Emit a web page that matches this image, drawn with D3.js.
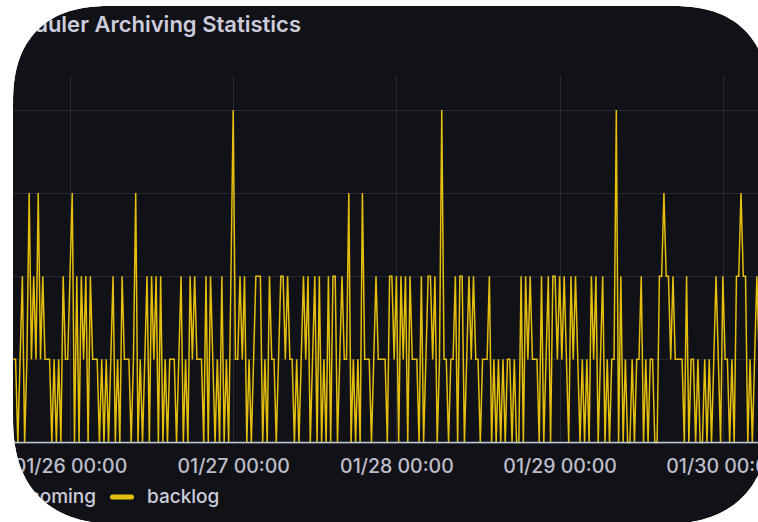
<!DOCTYPE html>
<html>
<head>
<meta charset="utf-8">
<script src="https://cdn.jsdelivr.net/npm/d3@7"></script>
<style>
  html, body { margin: 0; padding: 0; background: #ffffff; }
  svg { display: block; }
</style>
</head>
<body>
<svg id="chart" width="758" height="522"></svg>
<script>
// ---------------- DATA ----------------
const title = "Scheduler Archiving Statistics";
const seriesNames = ["incoming", "backlog"];
const startTime = Date.UTC(2024, 0, 25, 15, 40);   // first sample
const stepMinutes = 20;                              // sample interval
const backlog = [
  1,1,0,1,2,0,1,3,1,2, 1,3,1,2,1,1,1,0,1,0, 1,0,2,1,1,2,3,0,2,0,
  2,1,2,0,2,1,1,1,0,1, 0,1,0,1,2,0,1,0,2,1, 1,1,0,1,3,0,1,0,1,2,
  0,2,1,2,0,2,0,1,0,1, 1,1,0,1,2,0,1,0,2,1, 2,1,1,1,0,2,0,2,1,0,
  1,0,2,0,1,0,2,4,1,1, 2,1,2,0,1,0,1,2,2,2, 0,1,0,2,1,1,0,1,2,2,
  1,2,1,1,0,1,0,1,2,1, 2,0,1,2,0,2,0,1,0,2, 0,2,2,0,1,2,1,1,3,0,
  1,0,1,0,3,1,1,1,0,1, 2,1,1,1,1,0,2,2,1,2, 0,2,1,2,0,2,1,1,1,0,
  2,0,1,2,2,1,2,0,1,4, 1,1,0,1,1,2,0,2,2,0, 1,2,1,2,1,1,0,1,1,1,
  2,0,1,0,1,0,1,0,1,1, 0,1,0,0,2,0,2,1,2,1, 1,1,0,2,0,1,2,0,2,2,
  1,2,1,2,1,0,2,1,2,1, 0,1,0,1,0,2,1,2,0,1, 2,0,1,0,1,1,4,0,2,0,
  1,0,0,1,0,1,1,2,0,1, 0,1,1,0,0,2,2,3,2,2, 1,2,1,1,1,1,0,2,0,1,
  1,0,1,0,0,1,0,1,0,1, 2,1,0,2,1,1,0,1,0,2, 2,3,2,2,0,1,0,1,2,1,
  0,1,1,0
];
const incoming = [
  0,0,0,0,0,0,0,0,0,0, 0,0,0,0,0,0,0,0,0,0, 0,0,0,0,0,0,0,0,0,0,
  0,0,0,0,0,0,0,0,0,0, 0,0,0,0,0,0,0,0,0,0, 0,0,0,0,0,0,0,0,0,0,
  0,0,0,0,0,0,0,0,0,0, 0,0,0,0,0,0,0,0,0,0, 0,0,0,0,0,0,0,0,0,0,
  0,0,0,0,0,0,0,0,0,0, 0,0,0,0,0,0,0,0,0,0, 0,0,0,0,0,0,0,0,0,0,
  0,0,0,0,0,0,0,0,0,0, 0,0,0,0,0,0,0,0,0,0, 0,0,0,0,0,0,0,0,0,0,
  0,0,0,0,0,0,0,0,0,0, 0,0,0,0,0,0,0,0,0,0, 0,0,0,0,0,0,0,0,0,0,
  0,0,0,0,0,0,0,0,0,0, 0,0,0,0,0,0,0,0,0,0, 0,0,0,0,0,0,0,0,0,0,
  0,0,0,0,0,0,0,0,0,0, 0,0,0,0,0,0,0,0,0,0, 0,0,0,0,0,0,0,0,0,0,
  0,0,0,0,0,0,0,0,0,0, 0,0,0,0,0,0,0,0,0,0, 0,0,0,0,0,0,0,0,0,0,
  0,0,0,0,0,0,0,0,0,0, 0,0,0,0,0,0,0,0,0,0, 0,0,0,0,0,0,0,0,0,0,
  0,0,0,0,0,0,0,0,0,0, 0,0,0,0,0,0,0,0,0,0, 0,0,0,0,0,0,0,0,0,0,
  0,0,0,0
];
const xTickDates = [
  Date.UTC(2024, 0, 26), Date.UTC(2024, 0, 27), Date.UTC(2024, 0, 28),
  Date.UTC(2024, 0, 29), Date.UTC(2024, 0, 30)
];
const xTickLabels = ["01/26 00:00", "01/27 00:00", "01/28 00:00", "01/29 00:00", "01/30 00:00"];
const yTicks = [0, 1, 2, 3, 4];
const yMax = 4.42;

// ---------------- STYLE / LAYOUT ----------------
const W = 758, H = 522;
const panel = { left: 13, top: 6, right: 769, bottom: 524 };
const plot = { left: 13.3, right: 768.2, top: 75, bottom: 442.5 };
const colors = { bg: "#111217", text: "#ccccdc", grid: "rgba(204,204,220,0.13)",
                 backlog: "#E5BF0E", incoming: "#b9cbd6" };
const font = "Inter, 'Noto Sans', 'DejaVu Sans', sans-serif";

const svg = d3.select("#chart");

// Superellipse-cornered panel outline used as clip
function corner(cx, cy, a, sx, sy, n) {
  const pts = [];
  const N = 30;
  for (let k = 0; k <= N; k++) {
    const t = (k / N) * Math.PI / 2;
    const px = cx + sx * a * Math.pow(Math.cos(t), 2 / n);
    const py = cy + sy * a * Math.pow(Math.sin(t), 2 / n);
    pts.push([px, py]);
  }
  return pts;
}
const rT = 100, rB = 110, nE = 2.5;
const tl = corner(panel.left + rT, panel.top + rT, rT, -1, -1, nE);              // left -> top
const tr = corner(panel.right - rT, panel.top + rT, rT, 1, -1, nE).reverse();    // top -> right
const br = corner(panel.right - rB, panel.bottom - rB, rB, 1, 1, nE);            // right -> bottom
const bl = corner(panel.left + rB, panel.bottom - rB, rB, -1, 1, nE).reverse();  // bottom -> left
const outline = tl.concat(tr, br, bl);
const outlinePath = "M" + outline.map(p => p[0].toFixed(2) + "," + p[1].toFixed(2)).join("L") + "Z";

const defs = svg.append("defs");
defs.append("clipPath").attr("id", "panelClip").append("path").attr("d", outlinePath);

const g = svg.append("g").attr("clip-path", "url(#panelClip)");
g.append("path").attr("d", outlinePath).attr("fill", colors.bg);

// Scales
const lastTime = startTime + (backlog.length - 1) * stepMinutes * 60000;
const x = d3.scaleUtc().domain([startTime, lastTime]).range([plot.left, plot.right]);
const y = d3.scaleLinear().domain([0, yMax]).range([plot.bottom, plot.top]);
const timeAt = i => startTime + i * stepMinutes * 60000;

// Grid
g.append("g").selectAll("line").data(yTicks).join("line")
  .attr("x1", panel.left).attr("x2", panel.right)
  .attr("y1", d => Math.round(y(d)) + 0.5).attr("y2", d => Math.round(y(d)) + 0.5)
  .attr("stroke", colors.grid).attr("stroke-width", 1);
g.append("g").selectAll("line").data(xTickDates).join("line")
  .attr("x1", d => Math.round(x(d)) + 0.5).attr("x2", d => Math.round(x(d)) + 0.5)
  .attr("y1", plot.top).attr("y2", plot.bottom)
  .attr("stroke", colors.grid).attr("stroke-width", 1);

// Lines
const line = d3.line().x((d, i) => x(timeAt(i))).y(d => y(d)).curve(d3.curveLinear);
g.append("path").datum(backlog).attr("d", line)
  .attr("fill", "none").attr("stroke", colors.backlog).attr("stroke-width", 1.5)
  .attr("stroke-linejoin", "miter");
g.append("path").datum(incoming).attr("d", line)
  .attr("fill", "none").attr("stroke", colors.incoming).attr("stroke-width", 1.6);

// X axis
const xAxis = d3.axisBottom(x).tickValues(xTickDates)
  .tickFormat((d, i) => xTickLabels[i]).tickSize(0).tickPadding(17);
const ax = g.append("g").attr("transform", `translate(0,${plot.bottom})`).call(xAxis);
ax.select(".domain").remove();
ax.selectAll("text").attr("fill", colors.text).attr("font-family", font)
  .attr("font-size", 19.5).attr("font-weight", 500).attr("opacity", 0.92);

// Title
g.append("text").attr("x", 301).attr("y", 32).attr("text-anchor", "end")
  .attr("font-family", font).attr("font-size", 22).attr("font-weight", 600)
  .attr("fill", colors.text).text(title);

// Legend
const legY = 503;
g.append("text").attr("x", 96).attr("y", legY).attr("text-anchor", "end")
  .attr("font-family", font).attr("font-size", 19).attr("font-weight", 500)
  .attr("fill", colors.text).text(seriesNames[0]);
g.append("rect").attr("x", 110).attr("y", 494.5).attr("width", 24).attr("height", 5).attr("rx", 2.5)
  .attr("fill", colors.backlog);
g.append("text").attr("x", 147).attr("y", legY).attr("text-anchor", "start")
  .attr("font-family", font).attr("font-size", 19).attr("font-weight", 500)
  .attr("fill", colors.text).text(seriesNames[1]);
</script>
</body>
</html>
